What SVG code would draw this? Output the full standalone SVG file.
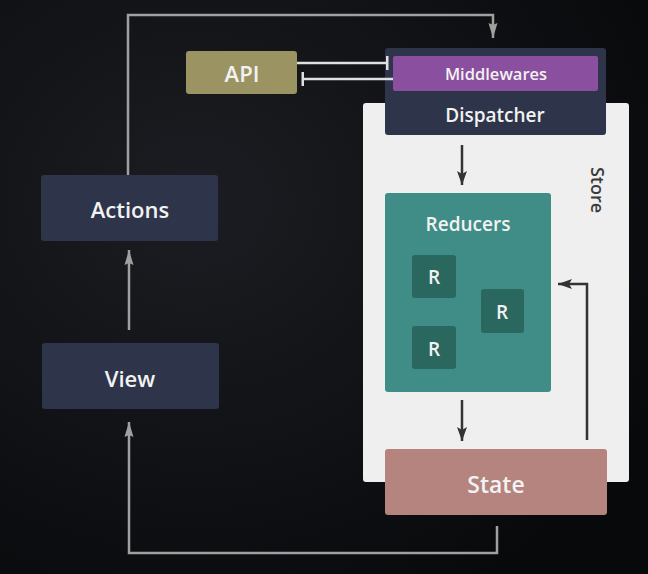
<svg xmlns="http://www.w3.org/2000/svg" width="648" height="574" viewBox="0 0 648 574">
<defs>
<radialGradient id="bg" cx="0.3" cy="0.35" r="0.8">
<stop offset="0" stop-color="#1b1d22"/>
<stop offset="1" stop-color="#08090b"/>
</radialGradient>
<marker id="gray" viewBox="0 0 15 10" refX="15" refY="5" markerWidth="15" markerHeight="10" markerUnits="userSpaceOnUse" orient="auto">
<path d="M0,0.5 L15,5 L0,9.5 L2,5 Z" fill="#a0a0a0"/>
</marker>
<marker id="dark" viewBox="0 0 14 10" refX="14" refY="5" markerWidth="14" markerHeight="10" markerUnits="userSpaceOnUse" orient="auto">
<path d="M0,0 L14,5 L0,10 L3,5 Z" fill="#333"/>
</marker>
<marker id="tee" viewBox="0 0 4 14" refX="2" refY="7" markerWidth="4" markerHeight="14" markerUnits="userSpaceOnUse" orient="auto">
<rect x="0" y="0" width="2.5" height="14" fill="#e0e0e0"/>
</marker>
</defs>
<style>
text{font-family:"Open Sans","Noto Sans","Liberation Sans",sans-serif;font-weight:600;fill:#f2f2f2;text-anchor:middle;dominant-baseline:central}
.node{fill:#2e3449}
.gl{fill:none;stroke:#a0a0a0;stroke-width:2.5}
.dl{fill:none;stroke:#333;stroke-width:2.5}
.wl{fill:none;stroke:#e0e0e0;stroke-width:2.5}
.r{fill:#2a675f}
.rt{font-size:19px}
</style>
<rect width="648" height="574" fill="url(#bg)"/>

<g id="store">
<rect x="363" y="103" width="266" height="379" rx="3" fill="#efefef"/>
<text x="598" y="190" transform="rotate(90 598 190)" style="fill:#3a3a3a;font-size:18px">Store</text>
</g>

<g id="api">
<rect x="186" y="51" width="111" height="43" rx="3" fill="#9b9462"/>
<text x="242" y="73" style="font-size:22px">API</text>
</g>

<g id="dispatcher">
<rect x="385" y="48" width="221" height="87" rx="3" fill="#2e3449"/>
<text x="495" y="115" style="font-size:19px">Dispatcher</text>
</g>

<g id="middlewares">
<rect x="393" y="56" width="205" height="35" rx="2" fill="#8a4f9e"/>
<text x="496" y="73.5" style="font-size:16.5px">Middlewares</text>
</g>

<g id="actions">
<rect class="node" x="41" y="175" width="177" height="66" rx="3"/>
<text x="130" y="209" style="font-size:22px">Actions</text>
</g>

<g id="view">
<rect class="node" x="42" y="343" width="177" height="66" rx="3"/>
<text x="130" y="378" style="font-size:22px">View</text>
</g>

<g id="reducers">
<rect x="385" y="193" width="166" height="199" rx="3" fill="#3f8d86"/>
<text x="468" y="224" style="font-size:19px">Reducers</text>
</g>

<g id="r1">
<rect class="r" x="412" y="255" width="44" height="43" rx="3"/>
<text class="rt" x="434" y="277">R</text>
</g>
<g id="r2">
<rect class="r" x="481" y="289" width="43" height="44" rx="3"/>
<text class="rt" x="502" y="312">R</text>
</g>
<g id="r3">
<rect class="r" x="412" y="326" width="44" height="43" rx="3"/>
<text class="rt" x="434" y="349">R</text>
</g>

<g id="state">
<rect x="385" y="449" width="222" height="66" rx="3" fill="#b5847e"/>
<text x="496" y="484" style="font-size:23px">State</text>
</g>

<g id="connectors">
<path class="gl" d="M128,175 V15 H493 V38" marker-end="url(#gray)"/>
<path class="gl" d="M129,330 V250" marker-end="url(#gray)"/>
<path class="gl" d="M497,526 V553 H129 V422" marker-end="url(#gray)"/>
<path class="wl" d="M297,63 H388" marker-end="url(#tee)"/>
<path class="wl" d="M393,79 H302" marker-end="url(#tee)"/>
<path class="dl" d="M462,145 V185" marker-end="url(#dark)"/>
<path class="dl" d="M462,400 V441" marker-end="url(#dark)"/>
<path class="dl" d="M587,440 V284 H558" marker-end="url(#dark)"/>
</g>
</svg>
